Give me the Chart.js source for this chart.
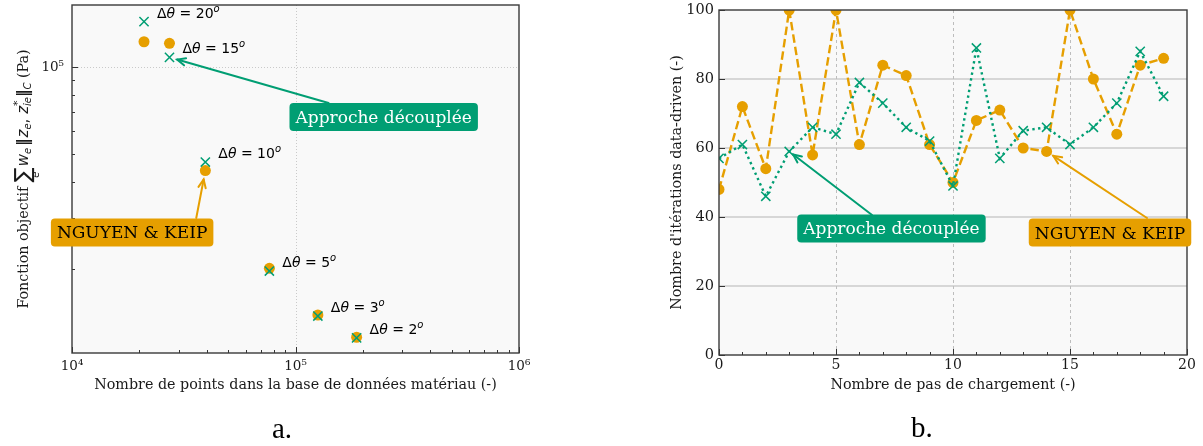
<!DOCTYPE html>
<html><head><meta charset="utf-8">
<script src="https://cdn.jsdelivr.net/npm/chart.js@4/dist/chart.umd.min.js"></script>
<style>
html,body{margin:0;padding:0;background:#fff;width:1203px;height:446px;overflow:hidden}
#wrap{position:relative;width:1203px;height:446px}
canvas{position:absolute;left:0;top:0}
.cap{position:absolute;font-family:"Liberation Serif",serif;font-size:29px;line-height:29px;color:#000}
</style></head><body>
<div id="wrap">
<canvas id="ca" width="1203" height="446"></canvas>
<canvas id="cb" width="1203" height="446"></canvas>
<div class="cap" style="left:272px;top:414px">a.</div>
<div class="cap" style="left:911px;top:413px">b.</div>
</div>
<script>
// ---------- data (a) ----------
const anglesDeg = [20, 15, 10, 5, 3, 2];
const nbPoints  = [2.10e4, 2.73e4, 3.95e4, 7.64e4, 1.259e5, 1.877e5];
const objNguyen = [1.223e5, 1.208e5, 4.38e4, 2.01e4, 1.386e4, 1.161e4];
const objDecoup = [1.435e5, 1.080e5, 4.69e4, 1.968e4, 1.375e4, 1.155e4];
const xRangeA = [1e4, 1e6];
const yRangeA = [1.024e4, 1.639e5];

// ---------- data (b) ----------
const steps    = [0,1,2,3,4,5,6,7,8,9,10,11,12,13,14,15,16,17,18,19];
const itNguyen = [48,72,54,100,58,100,61,84,81,61,50,68,71,60,59,100,80,64,84,86];
const itDecoup = [57,61,46,59,66,64,79,73,66,62,49,89,57,65,66,61,66,73,88,75];
const xTicksB  = [0,5,10,15,20];
const yTicksB  = [0,20,40,60,80,100];

const GREEN = '#009E73', ORANGE = '#E69F00';
const SERIF = '"DejaVu Serif", serif', SANS = '"DejaVu Sans", sans-serif';
const BG = '#f9f9f9', FRAME = '#3a3a3a', TXT = '#1a1a1a';
const SUP = {'0':'⁰','1':'¹','2':'²','3':'³','4':'⁴','5':'⁵','6':'⁶','7':'⁷','8':'⁸','9':'⁹','-':'⁻'};

function isPow10(v){ const l = Math.log10(v); return Math.abs(l - Math.round(l)) < 1e-9; }
function powLabel(v){ return '10' + String(Math.round(Math.log10(v))).split('').map(c=>SUP[c]).join(''); }

function drawRuns(ctx, runs, x, y, align){
  let w = 0;
  for (const r of runs){ ctx.font = r.f; r.w = ctx.measureText(r.t).width; if (!r.na && !r.under) w += r.w + (r.sp||0); }
  let cx = align === 'center' ? x - w/2 : x;
  let prevX = cx, prevW = 0;
  for (const r of runs){
    ctx.font = r.f;
    if (r.under){ ctx.fillText(r.t, prevX + (prevW - r.w)/2, y + (r.dy||0)); continue; }
    ctx.fillText(r.t, cx + (r.dx||0), y + (r.dy||0));
    if (!r.na){ prevX = cx; prevW = r.w; cx += r.w + (r.sp||0); }
  }
}

function drawArrow(ctx, x1, y1, x2, y2, color, shrink){
  const dx = x2 - x1, dy = y2 - y1, L = Math.hypot(dx, dy);
  const ux = dx/L, uy = dy/L;
  const ex = x2 - ux*shrink, ey = y2 - uy*shrink;
  ctx.save();
  ctx.strokeStyle = color; ctx.lineWidth = 2; ctx.lineCap = 'round';
  ctx.beginPath(); ctx.moveTo(x1, y1); ctx.lineTo(ex, ey); ctx.stroke();
  const a = Math.atan2(uy, ux), hl = 9, ha = 0.42;
  ctx.beginPath();
  ctx.moveTo(ex - hl*Math.cos(a-ha), ey - hl*Math.sin(a-ha));
  ctx.lineTo(ex, ey);
  ctx.lineTo(ex - hl*Math.cos(a+ha), ey - hl*Math.sin(a+ha));
  ctx.stroke();
  ctx.restore();
}

function roundRect(ctx, x, y, w, h, r){
  ctx.beginPath();
  ctx.moveTo(x+r, y); ctx.lineTo(x+w-r, y); ctx.quadraticCurveTo(x+w, y, x+w, y+r);
  ctx.lineTo(x+w, y+h-r); ctx.quadraticCurveTo(x+w, y+h, x+w-r, y+h);
  ctx.lineTo(x+r, y+h); ctx.quadraticCurveTo(x, y+h, x, y+h-r);
  ctx.lineTo(x, y+r); ctx.quadraticCurveTo(x, y, x+r, y); ctx.closePath();
}

function drawBox(ctx, cx, cy, text, fill, color){
  ctx.save();
  ctx.font = '17px ' + SERIF;
  const tw = ctx.measureText(text).width, pad = 6, h = 28;
  const w = tw + 2*pad;
  ctx.fillStyle = fill;
  roundRect(ctx, cx - w/2, cy - h/2, w, h, 4); ctx.fill();
  ctx.fillStyle = color; ctx.textAlign = 'left'; ctx.textBaseline = 'alphabetic';
  ctx.fillText(text, cx - tw/2, cy + 6);
  ctx.restore();
}

function drawFrameAndTicks(ctx, area, xs, ys, xMaj, xMin, yMaj, yMin){
  ctx.save();
  ctx.strokeStyle = '#333'; ctx.lineWidth = 1;
  ctx.beginPath();
  for (const v of xMaj){ const p = Math.round(xs.getPixelForValue(v)) + 0.5; ctx.moveTo(p, area.bottom); ctx.lineTo(p, area.bottom - 6); }
  for (const v of xMin){ const p = Math.round(xs.getPixelForValue(v)) + 0.5; ctx.moveTo(p, area.bottom); ctx.lineTo(p, area.bottom - 3); }
  for (const v of yMaj){ const p = Math.round(ys.getPixelForValue(v)) + 0.5; ctx.moveTo(area.left, p); ctx.lineTo(area.left + 6, p); }
  for (const v of yMin){ const p = Math.round(ys.getPixelForValue(v)) + 0.5; ctx.moveTo(area.left, p); ctx.lineTo(area.left + 3, p); }
  ctx.stroke();
  ctx.strokeStyle = FRAME; ctx.lineWidth = 1.4;
  ctx.strokeRect(area.left, area.top, area.right - area.left, area.bottom - area.top);
  ctx.restore();
}

function logMinors(lo, hi){
  const out = [];
  for (let e = Math.floor(Math.log10(lo)); e <= Math.ceil(Math.log10(hi)); e++){
    for (let k = 2; k <= 9; k++){ const v = k*Math.pow(10, e); if (v >= lo && v <= hi) out.push(v); }
  }
  return out;
}
function logMajors(lo, hi){
  const out = [];
  for (let e = Math.ceil(Math.log10(lo) - 1e-9); e <= Math.floor(Math.log10(hi) + 1e-9); e++) out.push(Math.pow(10, e));
  return out;
}
function noPadX(s, h){ s.height = h; s.paddingLeft = 0; s.paddingRight = 0; s.paddingTop = 0; s.paddingBottom = 0; }
function noPadY(s, w){ s.width = w; s.paddingTop = 0; s.paddingBottom = 0; s.paddingLeft = 0; s.paddingRight = 0; }

// ---------- plugin (a) ----------
const plugA = {
  id: 'plugA',
  beforeDraw(chart){
    const {ctx, chartArea: a} = chart;
    ctx.save(); ctx.fillStyle = BG; ctx.fillRect(a.left, a.top, a.right - a.left, a.bottom - a.top); ctx.restore();
  },
  beforeDatasetsDraw(chart){
    const {ctx, chartArea: a, scales: {x, y}} = chart;
    ctx.save(); ctx.strokeStyle = '#c4c4c4'; ctx.lineWidth = 0.9; ctx.setLineDash([1, 2]);
    ctx.beginPath();
    for (const v of logMajors(xRangeA[0], xRangeA[1])){ const p = Math.round(x.getPixelForValue(v)) + 0.5; if (p > a.left + 1 && p < a.right - 1){ ctx.moveTo(p, a.top); ctx.lineTo(p, a.bottom); } }
    for (const v of logMajors(yRangeA[0], yRangeA[1])){ const p = Math.round(y.getPixelForValue(v)) + 0.5; ctx.moveTo(a.left, p); ctx.lineTo(a.right, p); }
    ctx.stroke(); ctx.restore();
  },
  afterDatasetsDraw(chart){
    const {ctx, chartArea: a, scales: {x, y}} = chart;
    drawFrameAndTicks(ctx, a, x, y, logMajors(xRangeA[0], xRangeA[1]), logMinors(xRangeA[0], xRangeA[1]),
      logMajors(yRangeA[0], yRangeA[1]), logMinors(yRangeA[0], yRangeA[1]));
    // angle labels
    ctx.save(); ctx.fillStyle = '#000'; ctx.textBaseline = 'alphabetic';
    anglesDeg.forEach((d, i) => {
      const px = x.getPixelForValue(nbPoints[i]), py = y.getPixelForValue(objDecoup[i]);
      drawRuns(ctx, [
        {t:'Δ', f:'14px ' + SANS},
        {t:'θ', f:'italic 14px ' + SANS},
        {t:' = ' + d, f:'14px ' + SANS},
        {t:'o', f:'italic 10px ' + SANS, dy:-6}
      ], px + 13, py - 4, 'left');
    });
    ctx.restore();
    // annotations
    drawArrow(ctx, x.getPixelForValue(1.406e5), y.getPixelForValue(7.507e4), x.getPixelForValue(nbPoints[1]), y.getPixelForValue(objDecoup[1]), GREEN, 8);
    drawArrow(ctx, x.getPixelForValue(3.597e4), y.getPixelForValue(3.003e4), x.getPixelForValue(nbPoints[2]), y.getPixelForValue(objNguyen[2]), ORANGE, 9);
    drawBox(ctx, x.getPixelForValue(2.481e5), y.getPixelForValue(6.71e4), 'Approche découplée', GREEN, '#fff');
    drawBox(ctx, x.getPixelForValue(1.858e4), y.getPixelForValue(2.675e4), 'NGUYEN & KEIP', ORANGE, '#000');
    // axis titles
    ctx.save(); ctx.fillStyle = TXT; ctx.font = '14.3px ' + SERIF; ctx.textAlign = 'center'; ctx.textBaseline = 'alphabetic';
    ctx.fillText('Nombre de points dans la base de données matériau (-)', (a.left + a.right)/2, 389);
    ctx.restore();
    ctx.save(); ctx.fillStyle = TXT; ctx.textAlign = 'left'; ctx.textBaseline = 'alphabetic';
    ctx.translate(28, (a.top + a.bottom)/2); ctx.rotate(-Math.PI/2);
    drawRuns(ctx, [
      {t:'Fonction objectif ', f:'14.3px ' + SERIF},
      {t:'∑', f:'22px ' + SANS, dy:2, sp:1},
      {t:'e', f:'italic 10px ' + SANS, under:true, dy:11},
      {t:'w', f:'italic 15px ' + SANS},
      {t:'e', f:'italic 10px ' + SANS, dy:3, sp:2},
      {t:'‖', f:'bold 15px ' + SANS, sp:1},
      {t:'z', f:'italic 15px ' + SANS},
      {t:'e', f:'italic 10px ' + SANS, dy:3},
      {t:', ', f:'15px ' + SANS},
      {t:'z', f:'italic 15px ' + SANS},
      {t:'*', f:'11px ' + SANS, dy:-7, na:true},
      {t:'ie', f:'italic 10px ' + SANS, dy:3},
      {t:'‖', f:'bold 15px ' + SANS},
      {t:'C', f:'italic 10px ' + SANS, dy:3},
      {t:' (Pa)', f:'14.3px ' + SERIF}
    ], 0, 0, 'center');
    ctx.restore();
  }
};

new Chart(document.getElementById('ca'), {
  type: 'scatter',
  data: { datasets: [
    { label: 'Approche découplée', data: nbPoints.map((v, i) => ({x: v, y: objDecoup[i]})),
      pointStyle: 'crossRot', pointRadius: 6.5, pointBorderWidth: 1.5, pointBorderColor: GREEN, pointBackgroundColor: GREEN, borderColor: GREEN, showLine: false },
    { label: 'NGUYEN & KEIP', data: nbPoints.map((v, i) => ({x: v, y: objNguyen[i]})),
      pointStyle: 'circle', pointRadius: 5.5, pointBorderWidth: 0, pointBackgroundColor: ORANGE, borderColor: ORANGE, showLine: false }
  ]},
  options: {
    responsive: false, animation: false, events: [],
    layout: {autoPadding: false, padding: {left: 0, right: 684, top: 5, bottom: 48}},
    plugins: {legend: {display: false}, tooltip: {enabled: false}},
    scales: {
      x: { type: 'logarithmic', min: xRangeA[0], max: xRangeA[1],
        grid: {display: false, drawTicks: false}, border: {display: false},
        ticks: {autoSkip: false, maxRotation: 0, padding: 5, color: TXT, font: {family: '"DejaVu Serif"', size: 13.5},
          callback: v => isPow10(v) ? powLabel(v) : ''},
        afterFit: s => noPadX(s, 45) },
      y: { type: 'logarithmic', min: yRangeA[0], max: yRangeA[1],
        grid: {display: false, drawTicks: false}, border: {display: false},
        ticks: {autoSkip: false, padding: 8, color: TXT, font: {family: '"DejaVu Serif"', size: 13.5},
          callback: v => isPow10(v) ? powLabel(v) : ''},
        afterFit: s => noPadY(s, 72) }
    }
  },
  plugins: [plugA]
});

// ---------- plugin (b) ----------
const plugB = {
  id: 'plugB',
  beforeDraw(chart){
    const {ctx, chartArea: a} = chart;
    ctx.save(); ctx.fillStyle = BG; ctx.fillRect(a.left, a.top, a.right - a.left, a.bottom - a.top); ctx.restore();
  },
  beforeDatasetsDraw(chart){
    const {ctx, chartArea: a, scales: {x, y}} = chart;
    ctx.save();
    ctx.strokeStyle = '#cbcbcb'; ctx.lineWidth = 1.5;
    ctx.beginPath();
    for (const v of yTicksB.slice(1, -1)){ const p = Math.round(y.getPixelForValue(v)); ctx.moveTo(a.left, p); ctx.lineTo(a.right, p); }
    ctx.stroke();
    ctx.strokeStyle = '#bdbdbd'; ctx.lineWidth = 1; ctx.setLineDash([3, 3]);
    ctx.beginPath();
    for (const v of xTicksB.slice(1, -1)){ const p = Math.round(x.getPixelForValue(v)) + 0.5; ctx.moveTo(p, a.bottom); ctx.lineTo(p, a.top); }
    ctx.stroke();
    ctx.restore();
  },
  afterDatasetsDraw(chart){
    const {ctx, chartArea: a, scales: {x, y}} = chart;
    const xMin = [];
    for (let v = xTicksB[0]; v <= xTicksB[xTicksB.length - 1]; v++) if (!xTicksB.includes(v)) xMin.push(v);
    drawFrameAndTicks(ctx, a, x, y, xTicksB, xMin, yTicksB, []);
    drawArrow(ctx, x.getPixelForValue(6.54), y.getPixelForValue(40.6), x.getPixelForValue(steps[3]), y.getPixelForValue(itDecoup[3]), GREEN, 5);
    drawArrow(ctx, x.getPixelForValue(18.29), y.getPixelForValue(39.7), x.getPixelForValue(steps[14]), y.getPixelForValue(itNguyen[14]), ORANGE, 8);
    drawBox(ctx, x.getPixelForValue(7.37), y.getPixelForValue(36.7), 'Approche découplée', GREEN, '#fff');
    drawBox(ctx, x.getPixelForValue(16.71), y.getPixelForValue(35.5), 'NGUYEN & KEIP', ORANGE, '#000');
    ctx.save(); ctx.fillStyle = TXT; ctx.font = '14.3px ' + SERIF; ctx.textAlign = 'center'; ctx.textBaseline = 'alphabetic';
    ctx.fillText('Nombre de pas de chargement (-)', (a.left + a.right)/2, 389);
    ctx.translate(681, (a.top + a.bottom)/2); ctx.rotate(-Math.PI/2);
    ctx.fillText("Nombre d'itérations data-driven (-)", 0, 0);
    ctx.restore();
  }
};

new Chart(document.getElementById('cb'), {
  type: 'line',
  data: { datasets: [
    { label: 'Approche découplée', data: steps.map((s, i) => ({x: s, y: itDecoup[i]})),
      borderColor: GREEN, borderWidth: 2.4, borderDash: [2.4, 3.4], fill: false, tension: 0,
      pointStyle: 'crossRot', pointRadius: 6.5, pointBorderWidth: 1.5, pointBorderColor: GREEN, pointBackgroundColor: GREEN },
    { label: 'NGUYEN & KEIP', data: steps.map((s, i) => ({x: s, y: itNguyen[i]})),
      borderColor: ORANGE, borderWidth: 2.4, borderDash: [8.5, 4], fill: false, tension: 0,
      pointStyle: 'circle', pointRadius: 5.5, pointBorderWidth: 0, pointBackgroundColor: ORANGE }
  ]},
  options: {
    responsive: false, animation: false, events: [],
    layout: {autoPadding: false, padding: {left: 659, right: 16, top: 10, bottom: 46}},
    plugins: {legend: {display: false}, tooltip: {enabled: false}},
    scales: {
      x: { type: 'linear', min: xTicksB[0], max: xTicksB[xTicksB.length - 1],
        grid: {display: false, drawTicks: false}, border: {display: false},
        afterBuildTicks: s => { s.ticks = xTicksB.map(v => ({value: v})); },
        ticks: {autoSkip: false, maxRotation: 0, padding: 2, color: TXT, font: {family: '"DejaVu Serif"', size: 14}},
        afterFit: s => noPadX(s, 45) },
      y: { type: 'linear', min: yTicksB[0], max: yTicksB[yTicksB.length - 1],
        grid: {display: false, drawTicks: false}, border: {display: false},
        afterBuildTicks: s => { s.ticks = yTicksB.map(v => ({value: v})); },
        ticks: {autoSkip: false, padding: 5, color: TXT, font: {family: '"DejaVu Serif"', size: 14.5}},
        afterFit: s => noPadY(s, 60) }
    }
  },
  plugins: [plugB]
});
</script>
</body></html>
